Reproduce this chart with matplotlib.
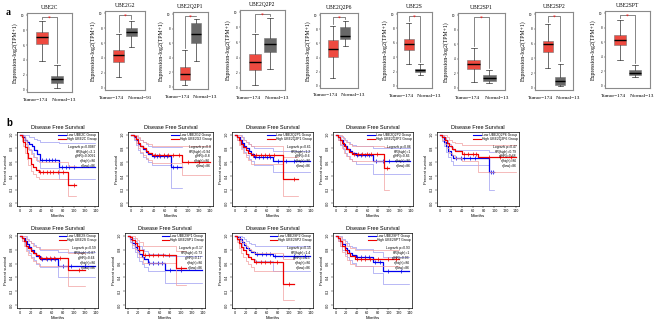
import numpy as np
import matplotlib
matplotlib.use('Agg')
import matplotlib.pyplot as plt

genes = ['UBE2C', 'UBE2G2', 'UBE2Q2P1', 'UBE2Q2P2', 'UBE2Q2P6',
         'UBE2S', 'UBE2SP1', 'UBE2SP2', 'UBE2SPT']
n_normal = [13, 91, 13, 13, 13, 13, 13, 13, 13]

# box stats (q1, median, q3, whisker low, whisker high)
tumor_box = [[6.2, 7.1, 7.8, 3.9, 9.2], [3.5, 4.4, 5.1, 1.4, 7.2],
             [1.0, 1.7, 2.7, 0.3, 5.1], [2.3, 3.4, 4.5, 0.3, 7.1],
             [4.1, 5.2, 6.5, 1.1, 8.5], [5.0, 5.8, 6.6, 3.0, 8.7],
             [2.6, 3.3, 3.8, 0.8, 5.5], [4.8, 5.9, 6.4, 2.7, 8.7],
             [5.6, 6.3, 7.0, 3.5, 9.0]]
normal_box = [[0.9, 1.4, 1.9, 0.3, 3.3], [7.0, 7.5, 8.0, 5.5, 8.9],
              [6.1, 7.3, 8.8, 3.6, 9.4], [4.8, 5.8, 6.6, 2.5, 9.2],
              [6.6, 7.1, 8.3, 5.6, 9.2], [2.0, 2.2, 2.4, 1.5, 3.0],
              [1.0, 1.3, 1.7, 0.6, 2.4], [0.4, 0.9, 1.4, 0.3, 3.3],
              [1.5, 1.8, 2.2, 1.2, 2.8]]

# disease free survival curves, panel b (months, survival, lower / upper band)
low_t = [[0, 6, 10, 14, 18, 22, 27, 32, 38, 72, 140],
         [0, 5, 9, 13, 17, 21, 26, 31, 37, 70, 90],
         [0, 5, 9, 13, 17, 21, 26, 31, 36, 70, 140],
         [0, 5, 9, 13, 17, 21, 26, 31, 38, 70, 140],
         [0, 4, 8, 12, 16, 20, 25, 90, 100],
         [0, 5, 9, 13, 17, 21, 26, 31, 38, 70, 140],
         [0, 5, 9, 13, 17, 21, 26, 31, 38, 70, 140],
         [0, 5, 9, 13, 17, 21, 26, 31, 38, 70, 140],
         [0, 5, 9, 13, 17, 21, 26, 31, 38, 70, 90, 140]]
low_s = [[1, 0.97, 0.93, 0.9, 0.87, 0.83, 0.78, 0.72, 0.63, 0.53, 0.53],
         [1, 0.97, 0.92, 0.87, 0.83, 0.79, 0.75, 0.72, 0.69, 0.53, 0.53],
         [1, 0.97, 0.93, 0.88, 0.84, 0.8, 0.76, 0.72, 0.68, 0.61, 0.61],
         [1, 0.97, 0.92, 0.87, 0.83, 0.79, 0.76, 0.73, 0.7, 0.62, 0.62],
         [1, 0.96, 0.9, 0.83, 0.77, 0.71, 0.66, 0.45, 0.45],
         [1, 0.97, 0.93, 0.88, 0.84, 0.8, 0.75, 0.71, 0.66, 0.57, 0.57],
         [1, 0.96, 0.9, 0.84, 0.79, 0.74, 0.7, 0.66, 0.61, 0.51, 0.51],
         [1, 0.98, 0.95, 0.91, 0.87, 0.83, 0.8, 0.77, 0.74, 0.71, 0.71],
         [1, 0.97, 0.93, 0.88, 0.83, 0.79, 0.75, 0.72, 0.69, 0.62, 0.5, 0.5]]
low_lo = [[1, 0.93, 0.87, 0.82, 0.78, 0.73, 0.67, 0.61, 0.51, 0.36, 0.36],
          [1, 0.92, 0.85, 0.78, 0.73, 0.68, 0.64, 0.6, 0.56, 0.22, 0.22],
          [1, 0.92, 0.86, 0.8, 0.75, 0.7, 0.65, 0.61, 0.56, 0.45, 0.45],
          [1, 0.92, 0.85, 0.79, 0.74, 0.69, 0.65, 0.62, 0.58, 0.42, 0.42],
          [1, 0.91, 0.83, 0.75, 0.68, 0.62, 0.56, 0.2, 0.2],
          [1, 0.92, 0.86, 0.8, 0.75, 0.7, 0.65, 0.6, 0.55, 0.4, 0.4],
          [1, 0.91, 0.83, 0.76, 0.7, 0.64, 0.6, 0.55, 0.5, 0.32, 0.32],
          [1, 0.94, 0.89, 0.84, 0.79, 0.74, 0.7, 0.67, 0.63, 0.49, 0.49],
          [1, 0.92, 0.86, 0.8, 0.74, 0.69, 0.65, 0.61, 0.57, 0.47, 0.31, 0.31]]
low_hi = [[1, 1, 1, 0.99, 0.97, 0.96, 0.94, 0.92, 0.9, 0.88, 0.88],
          [1, 1, 0.98, 0.95, 0.92, 0.89, 0.86, 0.84, 0.82, 0.82, 0.82],
          [1, 1, 0.99, 0.96, 0.93, 0.9, 0.87, 0.84, 0.81, 0.77, 0.77],
          [1, 1, 0.98, 0.95, 0.92, 0.89, 0.87, 0.85, 0.83, 0.8, 0.8],
          [1, 1, 0.97, 0.92, 0.87, 0.82, 0.78, 0.75, 0.75],
          [1, 1, 0.99, 0.96, 0.93, 0.9, 0.87, 0.84, 0.8, 0.76, 0.76],
          [1, 1, 0.97, 0.93, 0.89, 0.85, 0.81, 0.78, 0.74, 0.71, 0.71],
          [1, 1, 1, 0.98, 0.95, 0.92, 0.9, 0.88, 0.86, 0.85, 0.85],
          [1, 1, 0.99, 0.96, 0.92, 0.89, 0.86, 0.84, 0.81, 0.77, 0.7, 0.7]]

high_t = [[0, 4, 7, 10, 13, 16, 20, 25, 30, 35, 90, 105],
          [0, 5, 9, 13, 17, 21, 26, 31, 38, 90, 140],
          [0, 4, 8, 12, 16, 20, 25, 30, 90, 118],
          [0, 4, 8, 12, 16, 20, 25, 30, 90, 100],
          [0, 5, 9, 13, 17, 22, 28, 40, 70, 140],
          [0, 4, 8, 12, 16, 20, 25, 30, 36, 90, 120],
          [0, 5, 9, 13, 17, 22, 28, 90, 110],
          [0, 4, 8, 12, 16, 20, 25, 30, 36, 90, 110],
          [0, 5, 9, 13, 17, 22, 28, 36, 120]]
high_s = [[1, 0.96, 0.9, 0.82, 0.74, 0.66, 0.58, 0.53, 0.49, 0.46, 0.26, 0.26],
          [1, 0.98, 0.94, 0.88, 0.84, 0.8, 0.77, 0.74, 0.71, 0.6, 0.6],
          [1, 0.97, 0.92, 0.87, 0.82, 0.78, 0.74, 0.7, 0.35, 0.35],
          [1, 0.97, 0.93, 0.88, 0.83, 0.79, 0.75, 0.72, 0.52, 0.52],
          [1, 0.97, 0.93, 0.88, 0.83, 0.79, 0.76, 0.72, 0.68, 0.68],
          [1, 0.97, 0.92, 0.86, 0.82, 0.78, 0.75, 0.72, 0.68, 0.51, 0.51],
          [1, 0.98, 0.94, 0.89, 0.85, 0.8, 0.72, 0.53, 0.53],
          [1, 0.96, 0.9, 0.84, 0.79, 0.74, 0.7, 0.66, 0.62, 0.31, 0.31],
          [1, 0.97, 0.92, 0.86, 0.8, 0.75, 0.71, 0.67, 0.67]]
high_lo = [[1, 0.91, 0.83, 0.73, 0.64, 0.56, 0.47, 0.42, 0.38, 0.35, 0.11, 0.11],
           [1, 0.94, 0.88, 0.8, 0.75, 0.7, 0.66, 0.63, 0.59, 0.41, 0.41],
           [1, 0.92, 0.85, 0.79, 0.73, 0.68, 0.63, 0.58, 0.1, 0.1],
           [1, 0.92, 0.86, 0.8, 0.74, 0.69, 0.65, 0.61, 0.2, 0.2],
           [1, 0.92, 0.86, 0.8, 0.74, 0.7, 0.66, 0.62, 0.46, 0.46],
           [1, 0.92, 0.85, 0.78, 0.73, 0.68, 0.64, 0.61, 0.57, 0.28, 0.28],
           [1, 0.94, 0.87, 0.81, 0.76, 0.7, 0.61, 0.29, 0.29],
           [1, 0.91, 0.83, 0.75, 0.69, 0.64, 0.59, 0.55, 0.5, 0.08, 0.08],
           [1, 0.92, 0.85, 0.77, 0.71, 0.65, 0.6, 0.56, 0.56]]
high_hi = [[1, 1, 0.98, 0.92, 0.86, 0.79, 0.72, 0.67, 0.63, 0.6, 0.55, 0.55],
           [1, 1, 0.99, 0.96, 0.93, 0.9, 0.88, 0.86, 0.84, 0.84, 0.84],
           [1, 1, 0.99, 0.96, 0.93, 0.9, 0.87, 0.84, 0.68, 0.68],
           [1, 1, 0.99, 0.96, 0.93, 0.9, 0.87, 0.84, 0.82, 0.82],
           [1, 1, 0.99, 0.96, 0.93, 0.9, 0.88, 0.85, 0.85, 0.85],
           [1, 1, 0.99, 0.95, 0.92, 0.89, 0.86, 0.84, 0.81, 0.75, 0.75],
           [1, 1, 0.99, 0.97, 0.94, 0.91, 0.86, 0.78, 0.78],
           [1, 1, 0.97, 0.93, 0.89, 0.85, 0.81, 0.78, 0.75, 0.66, 0.66],
           [1, 1, 0.98, 0.94, 0.9, 0.86, 0.82, 0.79, 0.79]]

low_cens = [[42, 48, 55, 60, 66, 78, 85, 92, 100],
            [40, 46, 52, 58, 64, 75, 82],
            [38, 45, 52, 60, 66, 80, 95, 110],
            [40, 48, 55, 62, 75, 88, 100],
            [30, 38, 45, 55, 65, 93, 97],
            [42, 50, 58, 66, 80, 95, 120],
            [40, 48, 56, 64, 80, 100],
            [42, 50, 58, 66, 75, 90, 110, 130],
            [40, 48, 56, 64, 75, 85, 100, 125]]
high_cens = [[38, 44, 50, 56, 62, 70, 80, 100],
             [42, 50, 58, 66, 75, 85, 100, 120],
             [34, 40, 48, 56, 64, 72, 110],
             [34, 42, 50, 58, 66, 78, 96],
             [44, 52, 60, 66, 90, 110, 130],
             [40, 48, 56, 64, 75, 110],
             [32, 40, 48, 56, 66, 78, 100],
             [40, 48, 56, 66, 78, 100],
             [40, 48, 56, 66, 80, 100, 115]]

logrank_p = ['0.0087', '0.8', '0.61', '0.86', '0.47', '0.59', '0.17', '0.15', '0.93']
hr_high = ['2.1', '0.94', '1.2', '1', '0.79', '0.87', '0.73', '1.4', '1']
p_hr = ['0.0091', '0.8', '0.6', '0.86', '0.48', '0.64', '0.17', '0.15', '0.93']
n_group = [86, 86, 86, 86, 86, 86, 86, 86, 86]

W, H = 668, 326
fig = plt.figure(figsize=(W / 100, H / 100), dpi=100)


def px_axes(x0, x1, y0, y1):
    return fig.add_axes([x0 / W, 1 - y1 / H, (x1 - x0) / W, (y1 - y0) / H])


serif = 'Liberation Serif'
sans = 'Liberation Sans'

# ---- panel a: boxplots
box_pos = [(27, 72, 13, 92), (105, 145, 11, 90), (173, 208, 12, 89),
           (240, 285, 10, 90), (320, 358, 13, 88), (397, 432, 12, 88),
           (458, 505, 13, 90), (535, 573, 12, 90), (605, 650, 11, 88)]

for i, g in enumerate(genes):
    ax = px_axes(*box_pos[i])
    stats = []
    for b in (tumor_box[i], normal_box[i]):
        stats.append(dict(q1=b[0], med=b[1], q3=b[2], whislo=b[3], whishi=b[4], fliers=[]))
    bp = ax.bxp(stats, positions=[1, 2], widths=0.85, patch_artist=True,
                medianprops=dict(color='black', lw=1.0),
                whiskerprops=dict(color='#333333', lw=0.5),
                capprops=dict(color='#333333', lw=0.5),
                boxprops=dict(edgecolor='#777777', lw=0.4))
    bp['boxes'][0].set_facecolor('#EE4A40')
    bp['boxes'][1].set_facecolor('#686868')
    top = 9.8
    ax.plot([1, 1, 2, 2], [tumor_box[i][4] + 0.3, top, top, normal_box[i][4] + 0.3],
            color='#555555', lw=0.5)
    ax.text(1.5, top - 0.2, '*', color='red', ha='center', va='center', fontsize=4)
    ax.set_xlim(-0.05, 3.05)
    ax.set_ylim(-0.3, 10.3)
    ax.set_xticks([])
    ax.set_yticks([0, 2, 4, 6, 8, 10])
    ax.tick_params(axis='y', labelsize=2, length=1, width=0.3, pad=1)
    for sp in ax.spines.values():
        sp.set_color('#8a8a8a')
        sp.set_linewidth(0.8)
    ax.set_title(g, fontsize=4, family=serif, pad=3)
    ax.set_ylabel('Expression-log2(TPM+1)', fontsize=4.2, family=serif, labelpad=2)
    ax.text(0.47, -0.1, 'Tumor=174', transform=ax.transAxes, ha='right', va='center',
            fontsize=3.8, family=serif)
    ax.text(0.56, -0.1, 'Normal=%d' % n_normal[i], transform=ax.transAxes, ha='left',
            va='center', fontsize=3.8, family=serif)

fig.text(6 / W, 1 - 15 / H, 'a', fontsize=7, fontweight='bold', family=serif)
fig.text(6 / W, 1 - 126 / H, 'b', fontsize=7, fontweight='bold', family=sans)

# ---- panel b: survival curves
surv_pos = [(17, 98, 132, 206), (128, 213, 132, 206), (232, 313, 132, 206),
            (333, 413, 132, 206), (437, 519, 132, 206),
            (17, 98, 233, 308), (125, 205, 233, 308), (232, 313, 233, 308),
            (333, 412, 233, 308)]

for i, g in enumerate(genes):
    ax = px_axes(*surv_pos[i])
    for t, s, lo, hi, cens, col, light in (
            (low_t[i], low_s[i], low_lo[i], low_hi[i], low_cens[i], '#0000EE', '#9C9CF2'),
            (high_t[i], high_s[i], high_lo[i], high_hi[i], high_cens[i], '#EE0000', '#F2A0A0')):
        ax.step(t, lo, where='post', color=light, lw=0.5)
        ax.step(t, hi, where='post', color=light, lw=0.5)
        ax.step(t, s, where='post', color=col, lw=0.9)
        idx = np.searchsorted(t, cens, side='right') - 1
        ax.plot(cens, np.array(s)[idx], '+', color=col, ms=2.2, mew=0.5)
    ax.set_xlim(-5, 145)
    ax.set_ylim(-0.04, 1.04)
    ax.set_xticks(np.arange(0, 141, 20))
    ax.set_yticks(np.arange(0, 1.01, 0.2))
    ax.set_yticklabels(['%.1f' % v for v in np.arange(0, 1.01, 0.2)], rotation=90, va='center')
    ax.tick_params(labelsize=2.4, length=1.2, width=0.3, pad=1)
    for sp in ax.spines.values():
        sp.set_linewidth(0.5)
    ax.set_title('Disease Free Survival', fontsize=4, family=sans, pad=2)
    ax.set_xlabel('Months', fontsize=3.2, family=sans, labelpad=1)
    ax.set_ylabel('Percent survival', fontsize=3, family=sans, labelpad=1.5)
    h1, = ax.plot([], [], color='#0000EE', lw=0.8)
    h2, = ax.plot([], [], color='#EE0000', lw=0.8)
    ax.legend([h1, h2], ['Low %s Group' % g, 'High %s Group' % g], loc='upper right',
              frameon=False, handlelength=2.2, handletextpad=0.4,
              labelspacing=0.05, borderaxespad=0.2, borderpad=0.2,
              prop=dict(family=sans, size=2.4))
    lines = ['Logrank p=' + logrank_p[i], 'HR(high)=' + hr_high[i], 'p(HR)=' + p_hr[i],
             'n(high)=%d' % n_group[i], 'n(low)=%d' % n_group[i]]
    for k, line in enumerate(lines):
        ax.text(0.97, 0.8 - k * 0.065, line, transform=ax.transAxes, ha='right',
                va='center', fontsize=2.4, family=sans)

fig.savefig('out.png', dpi=100)
